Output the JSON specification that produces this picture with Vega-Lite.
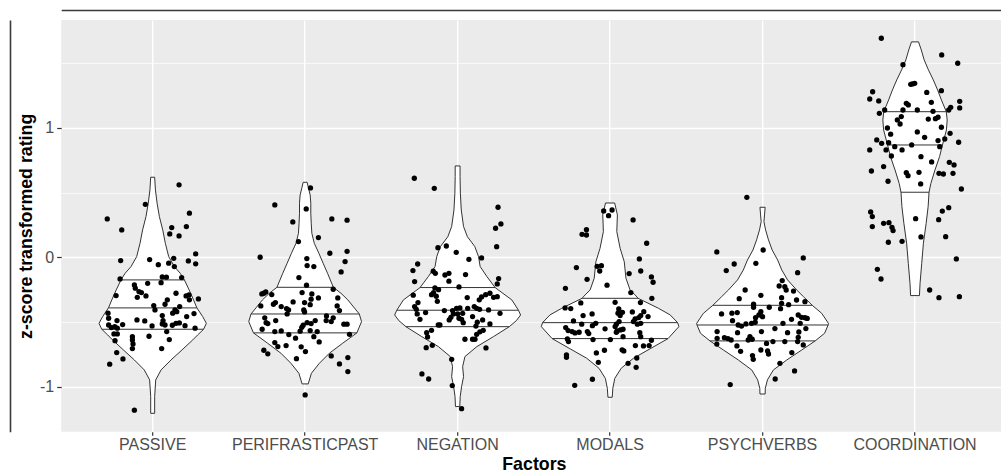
{
"$schema": "https://vega.github.io/schema/vega-lite/v6.json",
"width": 945.3,
"height": 411.7,
"autosize": {"type": "none"},
"padding": {"left": 61.2, "top": 20, "right": -5.5, "bottom": 43.3},
"background": "white",
"config": {"view": {"stroke": null, "fill": "#EBEBEB"}, "font": "Liberation Sans"},
"datasets": {
"vio": [
{"f":"PASSIVE","y":0.618,"o":-0.013},{"f":"PASSIVE","y":0.520,"o":-0.018},{"f":"PASSIVE","y":0.417,"o":-0.029},{"f":"PASSIVE","y":0.314,"o":-0.044},{"f":"PASSIVE","y":0.211,"o":-0.066},{"f":"PASSIVE","y":0.108,"o":-0.083},{"f":"PASSIVE","y":0.005,"o":-0.105},{"f":"PASSIVE","y":-0.072,"o":-0.142},{"f":"PASSIVE","y":-0.124,"o":-0.181},{"f":"PASSIVE","y":-0.175,"o":-0.208},{"f":"PASSIVE","y":-0.252,"o":-0.239},{"f":"PASSIVE","y":-0.329,"o":-0.268},{"f":"PASSIVE","y":-0.391,"o":-0.290},{"f":"PASSIVE","y":-0.458,"o":-0.328},{"f":"PASSIVE","y":-0.510,"o":-0.352},{"f":"PASSIVE","y":-0.556,"o":-0.334},{"f":"PASSIVE","y":-0.600,"o":-0.295},{"f":"PASSIVE","y":-0.638,"o":-0.263},{"f":"PASSIVE","y":-0.716,"o":-0.192},{"f":"PASSIVE","y":-0.793,"o":-0.120},{"f":"PASSIVE","y":-0.870,"o":-0.055},{"f":"PASSIVE","y":-0.947,"o":-0.020},{"f":"PASSIVE","y":-1.076,"o":-0.013},{"f":"PASSIVE","y":-1.205,"o":-0.013},
{"f":"PASSIVE","y":-1.205,"o":0.013},{"f":"PASSIVE","y":-1.076,"o":0.013},{"f":"PASSIVE","y":-0.947,"o":0.020},{"f":"PASSIVE","y":-0.870,"o":0.055},{"f":"PASSIVE","y":-0.793,"o":0.120},{"f":"PASSIVE","y":-0.716,"o":0.192},{"f":"PASSIVE","y":-0.638,"o":0.263},{"f":"PASSIVE","y":-0.600,"o":0.295},{"f":"PASSIVE","y":-0.556,"o":0.334},{"f":"PASSIVE","y":-0.510,"o":0.352},{"f":"PASSIVE","y":-0.458,"o":0.328},{"f":"PASSIVE","y":-0.391,"o":0.290},{"f":"PASSIVE","y":-0.329,"o":0.268},{"f":"PASSIVE","y":-0.252,"o":0.239},{"f":"PASSIVE","y":-0.175,"o":0.208},{"f":"PASSIVE","y":-0.124,"o":0.181},{"f":"PASSIVE","y":-0.072,"o":0.142},{"f":"PASSIVE","y":0.005,"o":0.105},{"f":"PASSIVE","y":0.108,"o":0.083},{"f":"PASSIVE","y":0.211,"o":0.066},{"f":"PASSIVE","y":0.314,"o":0.044},{"f":"PASSIVE","y":0.417,"o":0.029},{"f":"PASSIVE","y":0.520,"o":0.018},{"f":"PASSIVE","y":0.618,"o":0.013},{"f":"PASSIVE","y":0.618,"o":-0.013},
{"f":"PERIFRASTICPAST","y":0.579,"o":-0.013},{"f":"PERIFRASTICPAST","y":0.533,"o":-0.022},{"f":"PERIFRASTICPAST","y":0.481,"o":-0.033},{"f":"PERIFRASTICPAST","y":0.417,"o":-0.037},{"f":"PERIFRASTICPAST","y":0.340,"o":-0.037},{"f":"PERIFRASTICPAST","y":0.263,"o":-0.040},{"f":"PERIFRASTICPAST","y":0.185,"o":-0.044},{"f":"PERIFRASTICPAST","y":0.108,"o":-0.060},{"f":"PERIFRASTICPAST","y":0.031,"o":-0.090},{"f":"PERIFRASTICPAST","y":-0.046,"o":-0.118},{"f":"PERIFRASTICPAST","y":-0.124,"o":-0.147},{"f":"PERIFRASTICPAST","y":-0.232,"o":-0.185},{"f":"PERIFRASTICPAST","y":-0.278,"o":-0.235},{"f":"PERIFRASTICPAST","y":-0.329,"o":-0.280},{"f":"PERIFRASTICPAST","y":-0.438,"o":-0.355},{"f":"PERIFRASTICPAST","y":-0.497,"o":-0.370},{"f":"PERIFRASTICPAST","y":-0.584,"o":-0.339},{"f":"PERIFRASTICPAST","y":-0.664,"o":-0.246},{"f":"PERIFRASTICPAST","y":-0.741,"o":-0.159},{"f":"PERIFRASTICPAST","y":-0.819,"o":-0.093},{"f":"PERIFRASTICPAST","y":-0.896,"o":-0.041},{"f":"PERIFRASTICPAST","y":-0.978,"o":-0.020},
{"f":"PERIFRASTICPAST","y":-0.978,"o":0.020},{"f":"PERIFRASTICPAST","y":-0.896,"o":0.041},{"f":"PERIFRASTICPAST","y":-0.819,"o":0.093},{"f":"PERIFRASTICPAST","y":-0.741,"o":0.159},{"f":"PERIFRASTICPAST","y":-0.664,"o":0.246},{"f":"PERIFRASTICPAST","y":-0.584,"o":0.339},{"f":"PERIFRASTICPAST","y":-0.497,"o":0.370},{"f":"PERIFRASTICPAST","y":-0.438,"o":0.355},{"f":"PERIFRASTICPAST","y":-0.329,"o":0.280},{"f":"PERIFRASTICPAST","y":-0.278,"o":0.235},{"f":"PERIFRASTICPAST","y":-0.232,"o":0.185},{"f":"PERIFRASTICPAST","y":-0.124,"o":0.147},{"f":"PERIFRASTICPAST","y":-0.046,"o":0.118},{"f":"PERIFRASTICPAST","y":0.031,"o":0.090},{"f":"PERIFRASTICPAST","y":0.108,"o":0.060},{"f":"PERIFRASTICPAST","y":0.185,"o":0.044},{"f":"PERIFRASTICPAST","y":0.263,"o":0.040},{"f":"PERIFRASTICPAST","y":0.340,"o":0.037},{"f":"PERIFRASTICPAST","y":0.417,"o":0.037},{"f":"PERIFRASTICPAST","y":0.481,"o":0.033},{"f":"PERIFRASTICPAST","y":0.533,"o":0.022},{"f":"PERIFRASTICPAST","y":0.579,"o":0.013},{"f":"PERIFRASTICPAST","y":0.579,"o":-0.013},
{"f":"NEGATION","y":0.705,"o":-0.016},{"f":"NEGATION","y":0.623,"o":-0.016},{"f":"NEGATION","y":0.494,"o":-0.018},{"f":"NEGATION","y":0.365,"o":-0.024},{"f":"NEGATION","y":0.237,"o":-0.039},{"f":"NEGATION","y":0.159,"o":-0.064},{"f":"NEGATION","y":0.082,"o":-0.113},{"f":"NEGATION","y":0.005,"o":-0.137},{"f":"NEGATION","y":-0.072,"o":-0.148},{"f":"NEGATION","y":-0.149,"o":-0.192},{"f":"NEGATION","y":-0.234,"o":-0.246},{"f":"NEGATION","y":-0.330,"o":-0.356},{"f":"NEGATION","y":-0.409,"o":-0.399},{"f":"NEGATION","y":-0.446,"o":-0.413},{"f":"NEGATION","y":-0.490,"o":-0.385},{"f":"NEGATION","y":-0.536,"o":-0.339},{"f":"NEGATION","y":-0.613,"o":-0.235},{"f":"NEGATION","y":-0.690,"o":-0.126},{"f":"NEGATION","y":-0.767,"o":-0.048},{"f":"NEGATION","y":-0.845,"o":-0.033},{"f":"NEGATION","y":-0.922,"o":-0.039},{"f":"NEGATION","y":-0.999,"o":-0.026},{"f":"NEGATION","y":-1.076,"o":-0.017},{"f":"NEGATION","y":-1.153,"o":-0.014},
{"f":"NEGATION","y":-1.153,"o":0.014},{"f":"NEGATION","y":-1.076,"o":0.017},{"f":"NEGATION","y":-0.999,"o":0.026},{"f":"NEGATION","y":-0.922,"o":0.039},{"f":"NEGATION","y":-0.845,"o":0.033},{"f":"NEGATION","y":-0.767,"o":0.048},{"f":"NEGATION","y":-0.690,"o":0.126},{"f":"NEGATION","y":-0.613,"o":0.235},{"f":"NEGATION","y":-0.536,"o":0.339},{"f":"NEGATION","y":-0.490,"o":0.385},{"f":"NEGATION","y":-0.446,"o":0.413},{"f":"NEGATION","y":-0.409,"o":0.399},{"f":"NEGATION","y":-0.330,"o":0.356},{"f":"NEGATION","y":-0.234,"o":0.246},{"f":"NEGATION","y":-0.149,"o":0.192},{"f":"NEGATION","y":-0.072,"o":0.148},{"f":"NEGATION","y":0.005,"o":0.137},{"f":"NEGATION","y":0.082,"o":0.113},{"f":"NEGATION","y":0.159,"o":0.064},{"f":"NEGATION","y":0.237,"o":0.039},{"f":"NEGATION","y":0.365,"o":0.024},{"f":"NEGATION","y":0.494,"o":0.018},{"f":"NEGATION","y":0.623,"o":0.016},{"f":"NEGATION","y":0.705,"o":0.016},{"f":"NEGATION","y":0.705,"o":-0.016},
{"f":"MODALS","y":0.419,"o":-0.030},{"f":"MODALS","y":0.327,"o":-0.048},{"f":"MODALS","y":0.198,"o":-0.044},{"f":"MODALS","y":0.069,"o":-0.066},{"f":"MODALS","y":-0.034,"o":-0.093},{"f":"MODALS","y":-0.162,"o":-0.104},{"f":"MODALS","y":-0.252,"o":-0.131},{"f":"MODALS","y":-0.291,"o":-0.164},{"f":"MODALS","y":-0.317,"o":-0.184},{"f":"MODALS","y":-0.394,"o":-0.317},{"f":"MODALS","y":-0.445,"o":-0.394},{"f":"MODALS","y":-0.505,"o":-0.443},{"f":"MODALS","y":-0.536,"o":-0.451},{"f":"MODALS","y":-0.628,"o":-0.380},{"f":"MODALS","y":-0.703,"o":-0.268},{"f":"MODALS","y":-0.780,"o":-0.153},{"f":"MODALS","y":-0.857,"o":-0.073},{"f":"MODALS","y":-0.935,"o":-0.031},{"f":"MODALS","y":-1.012,"o":-0.018},{"f":"MODALS","y":-1.081,"o":-0.014},
{"f":"MODALS","y":-1.081,"o":0.014},{"f":"MODALS","y":-1.012,"o":0.018},{"f":"MODALS","y":-0.935,"o":0.031},{"f":"MODALS","y":-0.857,"o":0.073},{"f":"MODALS","y":-0.780,"o":0.153},{"f":"MODALS","y":-0.703,"o":0.268},{"f":"MODALS","y":-0.628,"o":0.380},{"f":"MODALS","y":-0.536,"o":0.451},{"f":"MODALS","y":-0.505,"o":0.443},{"f":"MODALS","y":-0.445,"o":0.394},{"f":"MODALS","y":-0.394,"o":0.317},{"f":"MODALS","y":-0.317,"o":0.184},{"f":"MODALS","y":-0.291,"o":0.164},{"f":"MODALS","y":-0.252,"o":0.131},{"f":"MODALS","y":-0.162,"o":0.104},{"f":"MODALS","y":-0.034,"o":0.093},{"f":"MODALS","y":0.069,"o":0.066},{"f":"MODALS","y":0.198,"o":0.044},{"f":"MODALS","y":0.327,"o":0.048},{"f":"MODALS","y":0.419,"o":0.030},{"f":"MODALS","y":0.419,"o":-0.030},
{"f":"PSYCHVERBS","y":0.386,"o":-0.017},{"f":"PSYCHVERBS","y":0.327,"o":-0.013},{"f":"PSYCHVERBS","y":0.275,"o":-0.009},{"f":"PSYCHVERBS","y":0.211,"o":-0.020},{"f":"PSYCHVERBS","y":0.134,"o":-0.039},{"f":"PSYCHVERBS","y":0.056,"o":-0.063},{"f":"PSYCHVERBS","y":-0.021,"o":-0.099},{"f":"PSYCHVERBS","y":-0.098,"o":-0.126},{"f":"PSYCHVERBS","y":-0.175,"o":-0.164},{"f":"PSYCHVERBS","y":-0.253,"o":-0.224},{"f":"PSYCHVERBS","y":-0.304,"o":-0.268},{"f":"PSYCHVERBS","y":-0.371,"o":-0.326},{"f":"PSYCHVERBS","y":-0.433,"o":-0.388},{"f":"PSYCHVERBS","y":-0.510,"o":-0.432},{"f":"PSYCHVERBS","y":-0.523,"o":-0.430},{"f":"PSYCHVERBS","y":-0.587,"o":-0.407},{"f":"PSYCHVERBS","y":-0.646,"o":-0.345},{"f":"PSYCHVERBS","y":-0.716,"o":-0.257},{"f":"PSYCHVERBS","y":-0.793,"o":-0.159},{"f":"PSYCHVERBS","y":-0.870,"o":-0.071},{"f":"PSYCHVERBS","y":-0.947,"o":-0.032},{"f":"PSYCHVERBS","y":-1.012,"o":-0.018},{"f":"PSYCHVERBS","y":-1.056,"o":-0.017},
{"f":"PSYCHVERBS","y":-1.056,"o":0.017},{"f":"PSYCHVERBS","y":-1.012,"o":0.018},{"f":"PSYCHVERBS","y":-0.947,"o":0.032},{"f":"PSYCHVERBS","y":-0.870,"o":0.071},{"f":"PSYCHVERBS","y":-0.793,"o":0.159},{"f":"PSYCHVERBS","y":-0.716,"o":0.257},{"f":"PSYCHVERBS","y":-0.646,"o":0.345},{"f":"PSYCHVERBS","y":-0.587,"o":0.407},{"f":"PSYCHVERBS","y":-0.523,"o":0.430},{"f":"PSYCHVERBS","y":-0.510,"o":0.432},{"f":"PSYCHVERBS","y":-0.433,"o":0.388},{"f":"PSYCHVERBS","y":-0.371,"o":0.326},{"f":"PSYCHVERBS","y":-0.304,"o":0.268},{"f":"PSYCHVERBS","y":-0.253,"o":0.224},{"f":"PSYCHVERBS","y":-0.175,"o":0.164},{"f":"PSYCHVERBS","y":-0.098,"o":0.126},{"f":"PSYCHVERBS","y":-0.021,"o":0.099},{"f":"PSYCHVERBS","y":0.056,"o":0.063},{"f":"PSYCHVERBS","y":0.134,"o":0.039},{"f":"PSYCHVERBS","y":0.211,"o":0.020},{"f":"PSYCHVERBS","y":0.275,"o":0.009},{"f":"PSYCHVERBS","y":0.327,"o":0.013},{"f":"PSYCHVERBS","y":0.386,"o":0.017},{"f":"PSYCHVERBS","y":0.386,"o":-0.017},
{"f":"COORDINATION","y":1.663,"o":-0.023},{"f":"COORDINATION","y":1.601,"o":-0.041},{"f":"COORDINATION","y":1.524,"o":-0.060},{"f":"COORDINATION","y":1.447,"o":-0.088},{"f":"COORDINATION","y":1.369,"o":-0.120},{"f":"COORDINATION","y":1.292,"o":-0.148},{"f":"COORDINATION","y":1.215,"o":-0.173},{"f":"COORDINATION","y":1.124,"o":-0.205},{"f":"COORDINATION","y":1.060,"o":-0.211},{"f":"COORDINATION","y":0.983,"o":-0.206},{"f":"COORDINATION","y":0.867,"o":-0.180},{"f":"COORDINATION","y":0.777,"o":-0.161},{"f":"COORDINATION","y":0.674,"o":-0.131},{"f":"COORDINATION","y":0.571,"o":-0.104},{"f":"COORDINATION","y":0.502,"o":-0.092},{"f":"COORDINATION","y":0.391,"o":-0.086},{"f":"COORDINATION","y":0.262,"o":-0.073},{"f":"COORDINATION","y":0.108,"o":-0.055},{"f":"COORDINATION","y":-0.047,"o":-0.044},{"f":"COORDINATION","y":-0.201,"o":-0.033},{"f":"COORDINATION","y":-0.296,"o":-0.029},
{"f":"COORDINATION","y":-0.296,"o":0.029},{"f":"COORDINATION","y":-0.201,"o":0.033},{"f":"COORDINATION","y":-0.047,"o":0.044},{"f":"COORDINATION","y":0.108,"o":0.055},{"f":"COORDINATION","y":0.262,"o":0.073},{"f":"COORDINATION","y":0.391,"o":0.086},{"f":"COORDINATION","y":0.502,"o":0.092},{"f":"COORDINATION","y":0.571,"o":0.104},{"f":"COORDINATION","y":0.674,"o":0.131},{"f":"COORDINATION","y":0.777,"o":0.161},{"f":"COORDINATION","y":0.867,"o":0.180},{"f":"COORDINATION","y":0.983,"o":0.206},{"f":"COORDINATION","y":1.060,"o":0.211},{"f":"COORDINATION","y":1.124,"o":0.205},{"f":"COORDINATION","y":1.215,"o":0.173},{"f":"COORDINATION","y":1.292,"o":0.148},{"f":"COORDINATION","y":1.369,"o":0.120},{"f":"COORDINATION","y":1.447,"o":0.088},{"f":"COORDINATION","y":1.524,"o":0.060},{"f":"COORDINATION","y":1.601,"o":0.041},{"f":"COORDINATION","y":1.663,"o":0.023},{"f":"COORDINATION","y":1.663,"o":-0.023}
],
"qt": [
{"f":"PASSIVE","g":"P1","y":-0.175,"o":-0.208},{"f":"PASSIVE","g":"P1","y":-0.175,"o":0.208},
{"f":"PASSIVE","g":"P2","y":-0.391,"o":-0.290},{"f":"PASSIVE","g":"P2","y":-0.391,"o":0.290},
{"f":"PASSIVE","g":"P3","y":-0.556,"o":-0.334},{"f":"PASSIVE","g":"P3","y":-0.556,"o":0.334},
{"f":"PERIFRASTICPAST","g":"R1","y":-0.232,"o":-0.185},{"f":"PERIFRASTICPAST","g":"R1","y":-0.232,"o":0.185},
{"f":"PERIFRASTICPAST","g":"R2","y":-0.438,"o":-0.355},{"f":"PERIFRASTICPAST","g":"R2","y":-0.438,"o":0.355},
{"f":"PERIFRASTICPAST","g":"R3","y":-0.584,"o":-0.339},{"f":"PERIFRASTICPAST","g":"R3","y":-0.584,"o":0.339},
{"f":"NEGATION","g":"N1","y":-0.234,"o":-0.246},{"f":"NEGATION","g":"N1","y":-0.234,"o":0.246},
{"f":"NEGATION","g":"N2","y":-0.409,"o":-0.399},{"f":"NEGATION","g":"N2","y":-0.409,"o":0.399},
{"f":"NEGATION","g":"N3","y":-0.536,"o":-0.339},{"f":"NEGATION","g":"N3","y":-0.536,"o":0.339},
{"f":"MODALS","g":"M1","y":-0.317,"o":-0.184},{"f":"MODALS","g":"M1","y":-0.317,"o":0.184},
{"f":"MODALS","g":"M2","y":-0.505,"o":-0.443},{"f":"MODALS","g":"M2","y":-0.505,"o":0.443},
{"f":"MODALS","g":"M3","y":-0.628,"o":-0.380},{"f":"MODALS","g":"M3","y":-0.628,"o":0.380},
{"f":"PSYCHVERBS","g":"S1","y":-0.371,"o":-0.326},{"f":"PSYCHVERBS","g":"S1","y":-0.371,"o":0.326},
{"f":"PSYCHVERBS","g":"S2","y":-0.523,"o":-0.430},{"f":"PSYCHVERBS","g":"S2","y":-0.523,"o":0.430},
{"f":"PSYCHVERBS","g":"S3","y":-0.646,"o":-0.345},{"f":"PSYCHVERBS","g":"S3","y":-0.646,"o":0.345},
{"f":"COORDINATION","g":"C1","y":1.124,"o":-0.205},{"f":"COORDINATION","g":"C1","y":1.124,"o":0.205},
{"f":"COORDINATION","g":"C2","y":0.867,"o":-0.180},{"f":"COORDINATION","g":"C2","y":0.867,"o":0.180},
{"f":"COORDINATION","g":"C3","y":0.502,"o":-0.092},{"f":"COORDINATION","g":"C3","y":0.502,"o":0.092}
],
"pts": [
{"f":"PASSIVE","y":0.559,"o":0.173},{"f":"PASSIVE","y":0.409,"o":-0.048},{"f":"PASSIVE","y":0.340,"o":0.241},{"f":"PASSIVE","y":0.296,"o":-0.298},{"f":"PASSIVE","y":0.211,"o":-0.203},{"f":"PASSIVE","y":0.229,"o":0.125},{"f":"PASSIVE","y":0.237,"o":0.221},{"f":"PASSIVE","y":0.180,"o":0.112},{"f":"PASSIVE","y":0.165,"o":0.173},{"f":"PASSIVE","y":0.026,"o":0.282},{"f":"PASSIVE","y":-0.026,"o":-0.210},{"f":"PASSIVE","y":-0.018,"o":-0.020},{"f":"PASSIVE","y":-0.057,"o":0.037},{"f":"PASSIVE","y":-0.046,"o":0.105},{"f":"PASSIVE","y":-0.008,"o":0.138},{"f":"PASSIVE","y":-0.072,"o":0.142},{"f":"PASSIVE","y":-0.028,"o":0.234},{"f":"PASSIVE","y":-0.051,"o":0.282},{"f":"PASSIVE","y":-0.167,"o":-0.214},{"f":"PASSIVE","y":-0.152,"o":0.063},{"f":"PASSIVE","y":-0.154,"o":0.090},{"f":"PASSIVE","y":-0.196,"o":0.055},{"f":"PASSIVE","y":-0.157,"o":0.190},{"f":"PASSIVE","y":-0.214,"o":-0.120},{"f":"PASSIVE","y":-0.201,"o":-0.033},{"f":"PASSIVE","y":-0.239,"o":-0.114},{"f":"PASSIVE","y":-0.265,"o":-0.090},{"f":"PASSIVE","y":-0.273,"o":-0.074},{"f":"PASSIVE","y":-0.299,"o":-0.044},{"f":"PASSIVE","y":-0.309,"o":-0.101},{"f":"PASSIVE","y":-0.296,"o":-0.240},{"f":"PASSIVE","y":-0.278,"o":0.153},{"f":"PASSIVE","y":-0.299,"o":0.219},{"f":"PASSIVE","y":-0.291,"o":0.238},{"f":"PASSIVE","y":-0.329,"o":0.241},{"f":"PASSIVE","y":-0.322,"o":0.300},{"f":"PASSIVE","y":-0.329,"o":0.096},{"f":"PASSIVE","y":-0.363,"o":0.081},{"f":"PASSIVE","y":-0.373,"o":0.007},{"f":"PASSIVE","y":-0.407,"o":0.015},{"f":"PASSIVE","y":-0.381,"o":0.177},{"f":"PASSIVE","y":-0.407,"o":0.146},{"f":"PASSIVE","y":-0.432,"o":0.131},{"f":"PASSIVE","y":-0.420,"o":0.158},{"f":"PASSIVE","y":-0.450,"o":0.063},{"f":"PASSIVE","y":-0.435,"o":0.271},{"f":"PASSIVE","y":-0.458,"o":0.223},{"f":"PASSIVE","y":-0.432,"o":-0.293},{"f":"PASSIVE","y":-0.471,"o":-0.289},{"f":"PASSIVE","y":-0.484,"o":-0.103},{"f":"PASSIVE","y":-0.492,"o":-0.052},{"f":"PASSIVE","y":-0.489,"o":0.068},{"f":"PASSIVE","y":-0.515,"o":0.063},{"f":"PASSIVE","y":-0.523,"o":0.081},{"f":"PASSIVE","y":-0.525,"o":0.129},{"f":"PASSIVE","y":-0.510,"o":0.153},{"f":"PASSIVE","y":-0.507,"o":0.175},{"f":"PASSIVE","y":-0.528,"o":0.212},{"f":"PASSIVE","y":-0.548,"o":0.278},{"f":"PASSIVE","y":-0.523,"o":-0.289},{"f":"PASSIVE","y":-0.489,"o":-0.234},{"f":"PASSIVE","y":-0.520,"o":-0.197},{"f":"PASSIVE","y":-0.543,"o":-0.271},{"f":"PASSIVE","y":-0.535,"o":-0.249},{"f":"PASSIVE","y":-0.548,"o":-0.232},{"f":"PASSIVE","y":-0.530,"o":-0.004},{"f":"PASSIVE","y":-0.574,"o":0.092},{"f":"PASSIVE","y":-0.592,"o":-0.254},{"f":"PASSIVE","y":-0.592,"o":-0.232},{"f":"PASSIVE","y":-0.610,"o":-0.024},{"f":"PASSIVE","y":-0.613,"o":-0.133},{"f":"PASSIVE","y":-0.644,"o":-0.247},{"f":"PASSIVE","y":-0.638,"o":-0.133},{"f":"PASSIVE","y":-0.636,"o":0.109},{"f":"PASSIVE","y":-0.669,"o":-0.129},{"f":"PASSIVE","y":-0.705,"o":-0.133},{"f":"PASSIVE","y":-0.705,"o":0.059},{"f":"PASSIVE","y":-0.736,"o":-0.236},{"f":"PASSIVE","y":-0.785,"o":-0.195},{"f":"PASSIVE","y":-0.826,"o":-0.282},{"f":"PASSIVE","y":-1.181,"o":-0.120},
{"f":"PERIFRASTICPAST","y":0.535,"o":0.035},{"f":"PERIFRASTICPAST","y":0.404,"o":-0.199},{"f":"PERIFRASTICPAST","y":0.373,"o":0.007},{"f":"PERIFRASTICPAST","y":0.273,"o":-0.081},{"f":"PERIFRASTICPAST","y":0.296,"o":0.175},{"f":"PERIFRASTICPAST","y":0.286,"o":0.275},{"f":"PERIFRASTICPAST","y":0.121,"o":-0.044},{"f":"PERIFRASTICPAST","y":0.152,"o":0.087},{"f":"PERIFRASTICPAST","y":0.000,"o":-0.295},{"f":"PERIFRASTICPAST","y":0.031,"o":0.162},{"f":"PERIFRASTICPAST","y":0.046,"o":0.275},{"f":"PERIFRASTICPAST","y":-0.010,"o":0.011},{"f":"PERIFRASTICPAST","y":-0.033,"o":0.262},{"f":"PERIFRASTICPAST","y":-0.064,"o":0.013},{"f":"PERIFRASTICPAST","y":-0.072,"o":0.057},{"f":"PERIFRASTICPAST","y":-0.113,"o":0.236},{"f":"PERIFRASTICPAST","y":-0.157,"o":-0.041},{"f":"PERIFRASTICPAST","y":-0.216,"o":0.009},{"f":"PERIFRASTICPAST","y":-0.247,"o":0.184},{"f":"PERIFRASTICPAST","y":-0.278,"o":-0.271},{"f":"PERIFRASTICPAST","y":-0.268,"o":-0.258},{"f":"PERIFRASTICPAST","y":-0.283,"o":-0.284},{"f":"PERIFRASTICPAST","y":-0.288,"o":-0.219},{"f":"PERIFRASTICPAST","y":-0.273,"o":-0.020},{"f":"PERIFRASTICPAST","y":-0.283,"o":0.044},{"f":"PERIFRASTICPAST","y":-0.314,"o":0.214},{"f":"PERIFRASTICPAST","y":-0.314,"o":0.087},{"f":"PERIFRASTICPAST","y":-0.324,"o":0.039},{"f":"PERIFRASTICPAST","y":-0.345,"o":-0.079},{"f":"PERIFRASTICPAST","y":-0.350,"o":-0.195},{"f":"PERIFRASTICPAST","y":-0.363,"o":-0.208},{"f":"PERIFRASTICPAST","y":-0.350,"o":-0.004},{"f":"PERIFRASTICPAST","y":-0.366,"o":0.033},{"f":"PERIFRASTICPAST","y":-0.376,"o":-0.291},{"f":"PERIFRASTICPAST","y":-0.381,"o":-0.157},{"f":"PERIFRASTICPAST","y":-0.396,"o":-0.122},{"f":"PERIFRASTICPAST","y":-0.407,"o":-0.109},{"f":"PERIFRASTICPAST","y":-0.376,"o":0.210},{"f":"PERIFRASTICPAST","y":-0.412,"o":0.225},{"f":"PERIFRASTICPAST","y":-0.407,"o":-0.009},{"f":"PERIFRASTICPAST","y":-0.422,"o":-0.004},{"f":"PERIFRASTICPAST","y":-0.438,"o":-0.118},{"f":"PERIFRASTICPAST","y":-0.453,"o":0.140},{"f":"PERIFRASTICPAST","y":-0.468,"o":0.184},{"f":"PERIFRASTICPAST","y":-0.468,"o":-0.265},{"f":"PERIFRASTICPAST","y":-0.489,"o":0.138},{"f":"PERIFRASTICPAST","y":-0.497,"o":0.171},{"f":"PERIFRASTICPAST","y":-0.489,"o":-0.193},{"f":"PERIFRASTICPAST","y":-0.505,"o":-0.256},{"f":"PERIFRASTICPAST","y":-0.512,"o":-0.245},{"f":"PERIFRASTICPAST","y":-0.489,"o":0.066},{"f":"PERIFRASTICPAST","y":-0.505,"o":0.013},{"f":"PERIFRASTICPAST","y":-0.512,"o":0.039},{"f":"PERIFRASTICPAST","y":-0.525,"o":-0.013},{"f":"PERIFRASTICPAST","y":-0.541,"o":-0.022},{"f":"PERIFRASTICPAST","y":-0.517,"o":0.254},{"f":"PERIFRASTICPAST","y":-0.517,"o":0.275},{"f":"PERIFRASTICPAST","y":-0.556,"o":-0.282},{"f":"PERIFRASTICPAST","y":-0.574,"o":-0.199},{"f":"PERIFRASTICPAST","y":-0.569,"o":-0.157},{"f":"PERIFRASTICPAST","y":-0.571,"o":-0.033},{"f":"PERIFRASTICPAST","y":-0.566,"o":0.033},{"f":"PERIFRASTICPAST","y":-0.574,"o":0.079},{"f":"PERIFRASTICPAST","y":-0.595,"o":0.291},{"f":"PERIFRASTICPAST","y":-0.597,"o":-0.107},{"f":"PERIFRASTICPAST","y":-0.625,"o":-0.063},{"f":"PERIFRASTICPAST","y":-0.613,"o":0.057},{"f":"PERIFRASTICPAST","y":-0.654,"o":0.092},{"f":"PERIFRASTICPAST","y":-0.659,"o":-0.199},{"f":"PERIFRASTICPAST","y":-0.690,"o":-0.179},{"f":"PERIFRASTICPAST","y":-0.682,"o":-0.125},{"f":"PERIFRASTICPAST","y":-0.692,"o":-0.026},{"f":"PERIFRASTICPAST","y":-0.728,"o":0.002},{"f":"PERIFRASTICPAST","y":-0.718,"o":-0.271},{"f":"PERIFRASTICPAST","y":-0.746,"o":-0.245},{"f":"PERIFRASTICPAST","y":-0.783,"o":-0.057},{"f":"PERIFRASTICPAST","y":-0.762,"o":0.171},{"f":"PERIFRASTICPAST","y":-0.775,"o":0.280},{"f":"PERIFRASTICPAST","y":-0.824,"o":0.225},{"f":"PERIFRASTICPAST","y":-0.883,"o":0.280},{"f":"PERIFRASTICPAST","y":-1.063,"o":0.000},
{"f":"NEGATION","y":0.610,"o":-0.284},{"f":"NEGATION","y":0.532,"o":-0.153},{"f":"NEGATION","y":0.386,"o":0.265},{"f":"NEGATION","y":0.257,"o":0.284},{"f":"NEGATION","y":0.224,"o":0.249},{"f":"NEGATION","y":0.082,"o":0.256},{"f":"NEGATION","y":0.074,"o":-0.129},{"f":"NEGATION","y":0.087,"o":-0.074},{"f":"NEGATION","y":0.038,"o":-0.009},{"f":"NEGATION","y":-0.016,"o":0.074},{"f":"NEGATION","y":-0.005,"o":0.157},{"f":"NEGATION","y":-0.052,"o":-0.262},{"f":"NEGATION","y":-0.103,"o":-0.293},{"f":"NEGATION","y":-0.108,"o":-0.160},{"f":"NEGATION","y":-0.124,"o":-0.146},{"f":"NEGATION","y":-0.137,"o":-0.083},{"f":"NEGATION","y":-0.124,"o":-0.057},{"f":"NEGATION","y":-0.134,"o":0.052},{"f":"NEGATION","y":-0.188,"o":-0.282},{"f":"NEGATION","y":-0.185,"o":-0.057},{"f":"NEGATION","y":-0.165,"o":0.269},{"f":"NEGATION","y":-0.206,"o":0.260},{"f":"NEGATION","y":-0.229,"o":0.009},{"f":"NEGATION","y":-0.237,"o":-0.149},{"f":"NEGATION","y":-0.250,"o":-0.125},{"f":"NEGATION","y":-0.293,"o":-0.291},{"f":"NEGATION","y":-0.289,"o":-0.171},{"f":"NEGATION","y":-0.273,"o":-0.158},{"f":"NEGATION","y":-0.301,"o":-0.140},{"f":"NEGATION","y":-0.311,"o":0.063},{"f":"NEGATION","y":-0.306,"o":0.157},{"f":"NEGATION","y":-0.289,"o":0.184},{"f":"NEGATION","y":-0.278,"o":0.212},{"f":"NEGATION","y":-0.309,"o":0.236},{"f":"NEGATION","y":-0.304,"o":0.260},{"f":"NEGATION","y":-0.329,"o":0.142},{"f":"NEGATION","y":-0.350,"o":-0.260},{"f":"NEGATION","y":-0.340,"o":-0.133},{"f":"NEGATION","y":-0.381,"o":-0.282},{"f":"NEGATION","y":-0.402,"o":-0.271},{"f":"NEGATION","y":-0.427,"o":-0.210},{"f":"NEGATION","y":-0.438,"o":-0.265},{"f":"NEGATION","y":-0.479,"o":-0.247},{"f":"NEGATION","y":-0.412,"o":-0.087},{"f":"NEGATION","y":-0.412,"o":-0.033},{"f":"NEGATION","y":-0.394,"o":-0.007},{"f":"NEGATION","y":-0.391,"o":0.015},{"f":"NEGATION","y":-0.394,"o":0.066},{"f":"NEGATION","y":-0.381,"o":0.109},{"f":"NEGATION","y":-0.394,"o":0.125},{"f":"NEGATION","y":-0.402,"o":0.144},{"f":"NEGATION","y":-0.407,"o":0.203},{"f":"NEGATION","y":-0.433,"o":0.278},{"f":"NEGATION","y":-0.438,"o":-0.028},{"f":"NEGATION","y":-0.438,"o":0.000},{"f":"NEGATION","y":-0.433,"o":0.033},{"f":"NEGATION","y":-0.464,"o":-0.044},{"f":"NEGATION","y":-0.484,"o":-0.055},{"f":"NEGATION","y":-0.471,"o":0.009},{"f":"NEGATION","y":-0.505,"o":0.037},{"f":"NEGATION","y":-0.479,"o":0.026},{"f":"NEGATION","y":-0.458,"o":0.098},{"f":"NEGATION","y":-0.484,"o":0.164},{"f":"NEGATION","y":-0.502,"o":0.129},{"f":"NEGATION","y":-0.515,"o":0.212},{"f":"NEGATION","y":-0.523,"o":-0.127},{"f":"NEGATION","y":-0.523,"o":-0.116},{"f":"NEGATION","y":-0.531,"o":0.120},{"f":"NEGATION","y":-0.564,"o":-0.171},{"f":"NEGATION","y":-0.582,"o":-0.203},{"f":"NEGATION","y":-0.615,"o":-0.197},{"f":"NEGATION","y":-0.564,"o":0.168},{"f":"NEGATION","y":-0.576,"o":0.146},{"f":"NEGATION","y":-0.595,"o":0.125},{"f":"NEGATION","y":-0.633,"o":0.098},{"f":"NEGATION","y":-0.633,"o":0.114},{"f":"NEGATION","y":-0.633,"o":0.048},{"f":"NEGATION","y":-0.680,"o":-0.166},{"f":"NEGATION","y":-0.698,"o":-0.206},{"f":"NEGATION","y":-0.700,"o":0.186},{"f":"NEGATION","y":-0.788,"o":-0.039},{"f":"NEGATION","y":-0.901,"o":-0.234},{"f":"NEGATION","y":-0.940,"o":-0.190},{"f":"NEGATION","y":-0.991,"o":-0.035},{"f":"NEGATION","y":-1.169,"o":0.026},
{"f":"MODALS","y":0.358,"o":-0.042},{"f":"MODALS","y":0.365,"o":0.013},{"f":"MODALS","y":0.321,"o":-0.010},{"f":"MODALS","y":0.288,"o":0.151},{"f":"MODALS","y":0.213,"o":-0.155},{"f":"MODALS","y":0.177,"o":-0.184},{"f":"MODALS","y":0.172,"o":-0.155},{"f":"MODALS","y":0.108,"o":0.240},{"f":"MODALS","y":-0.013,"o":0.192},{"f":"MODALS","y":-0.080,"o":-0.221},{"f":"MODALS","y":-0.070,"o":-0.085},{"f":"MODALS","y":-0.065,"o":-0.057},{"f":"MODALS","y":-0.106,"o":-0.068},{"f":"MODALS","y":-0.106,"o":0.201},{"f":"MODALS","y":-0.126,"o":0.125},{"f":"MODALS","y":-0.152,"o":0.271},{"f":"MODALS","y":-0.170,"o":-0.151},{"f":"MODALS","y":-0.193,"o":0.282},{"f":"MODALS","y":-0.216,"o":-0.020},{"f":"MODALS","y":-0.240,"o":-0.293},{"f":"MODALS","y":-0.273,"o":0.136},{"f":"MODALS","y":-0.317,"o":0.274},{"f":"MODALS","y":-0.353,"o":-0.192},{"f":"MODALS","y":-0.348,"o":0.033},{"f":"MODALS","y":-0.350,"o":0.199},{"f":"MODALS","y":-0.391,"o":-0.295},{"f":"MODALS","y":-0.396,"o":-0.258},{"f":"MODALS","y":-0.399,"o":0.057},{"f":"MODALS","y":-0.425,"o":0.081},{"f":"MODALS","y":-0.422,"o":0.146},{"f":"MODALS","y":-0.432,"o":0.052},{"f":"MODALS","y":-0.438,"o":-0.118},{"f":"MODALS","y":-0.450,"o":-0.177},{"f":"MODALS","y":-0.450,"o":0.066},{"f":"MODALS","y":-0.450,"o":0.201},{"f":"MODALS","y":-0.420,"o":0.221},{"f":"MODALS","y":-0.458,"o":0.249},{"f":"MODALS","y":-0.466,"o":0.188},{"f":"MODALS","y":-0.476,"o":0.164},{"f":"MODALS","y":-0.497,"o":0.153},{"f":"MODALS","y":-0.492,"o":-0.240},{"f":"MODALS","y":-0.517,"o":-0.186},{"f":"MODALS","y":-0.510,"o":-0.094},{"f":"MODALS","y":-0.528,"o":-0.116},{"f":"MODALS","y":-0.497,"o":0.059},{"f":"MODALS","y":-0.517,"o":0.041},{"f":"MODALS","y":-0.535,"o":0.033},{"f":"MODALS","y":-0.517,"o":0.179},{"f":"MODALS","y":-0.510,"o":0.201},{"f":"MODALS","y":-0.543,"o":-0.291},{"f":"MODALS","y":-0.566,"o":-0.275},{"f":"MODALS","y":-0.574,"o":-0.249},{"f":"MODALS","y":-0.584,"o":-0.230},{"f":"MODALS","y":-0.579,"o":-0.203},{"f":"MODALS","y":-0.574,"o":-0.149},{"f":"MODALS","y":-0.589,"o":-0.140},{"f":"MODALS","y":-0.553,"o":-0.033},{"f":"MODALS","y":-0.569,"o":0.046},{"f":"MODALS","y":-0.561,"o":0.068},{"f":"MODALS","y":-0.556,"o":0.085},{"f":"MODALS","y":-0.579,"o":0.041},{"f":"MODALS","y":-0.582,"o":0.195},{"f":"MODALS","y":-0.613,"o":0.201},{"f":"MODALS","y":-0.613,"o":0.085},{"f":"MODALS","y":-0.631,"o":-0.280},{"f":"MODALS","y":-0.651,"o":-0.273},{"f":"MODALS","y":-0.636,"o":-0.112},{"f":"MODALS","y":-0.636,"o":0.002},{"f":"MODALS","y":-0.641,"o":0.271},{"f":"MODALS","y":-0.682,"o":0.166},{"f":"MODALS","y":-0.685,"o":0.219},{"f":"MODALS","y":-0.682,"o":0.256},{"f":"MODALS","y":-0.718,"o":-0.037},{"f":"MODALS","y":-0.739,"o":-0.090},{"f":"MODALS","y":-0.715,"o":0.079},{"f":"MODALS","y":-0.723,"o":0.090},{"f":"MODALS","y":-0.754,"o":-0.286},{"f":"MODALS","y":-0.772,"o":-0.286},{"f":"MODALS","y":-0.778,"o":0.175},{"f":"MODALS","y":-0.811,"o":-0.077},{"f":"MODALS","y":-0.819,"o":0.118},{"f":"MODALS","y":-0.850,"o":0.171},{"f":"MODALS","y":-0.942,"o":-0.116},{"f":"MODALS","y":-0.989,"o":-0.232},
{"f":"PSYCHVERBS","y":0.463,"o":-0.103},{"f":"PSYCHVERBS","y":0.041,"o":-0.300},{"f":"PSYCHVERBS","y":0.056,"o":0.004},{"f":"PSYCHVERBS","y":-0.005,"o":0.267},{"f":"PSYCHVERBS","y":-0.052,"o":-0.186},{"f":"PSYCHVERBS","y":-0.047,"o":-0.044},{"f":"PSYCHVERBS","y":-0.103,"o":-0.238},{"f":"PSYCHVERBS","y":-0.119,"o":0.230},{"f":"PSYCHVERBS","y":-0.180,"o":0.129},{"f":"PSYCHVERBS","y":-0.222,"o":0.109},{"f":"PSYCHVERBS","y":-0.227,"o":0.146},{"f":"PSYCHVERBS","y":-0.253,"o":0.155},{"f":"PSYCHVERBS","y":-0.253,"o":-0.114},{"f":"PSYCHVERBS","y":-0.261,"o":0.203},{"f":"PSYCHVERBS","y":-0.294,"o":-0.011},{"f":"PSYCHVERBS","y":-0.320,"o":-0.153},{"f":"PSYCHVERBS","y":-0.312,"o":0.125},{"f":"PSYCHVERBS","y":-0.330,"o":0.223},{"f":"PSYCHVERBS","y":-0.343,"o":0.278},{"f":"PSYCHVERBS","y":-0.363,"o":-0.059},{"f":"PSYCHVERBS","y":-0.386,"o":-0.059},{"f":"PSYCHVERBS","y":-0.386,"o":0.044},{"f":"PSYCHVERBS","y":-0.356,"o":0.125},{"f":"PSYCHVERBS","y":-0.366,"o":0.171},{"f":"PSYCHVERBS","y":-0.397,"o":0.118},{"f":"PSYCHVERBS","y":-0.438,"o":-0.269},{"f":"PSYCHVERBS","y":-0.432,"o":-0.201},{"f":"PSYCHVERBS","y":-0.427,"o":-0.166},{"f":"PSYCHVERBS","y":-0.420,"o":-0.011},{"f":"PSYCHVERBS","y":-0.446,"o":-0.024},{"f":"PSYCHVERBS","y":-0.459,"o":0.000},{"f":"PSYCHVERBS","y":-0.467,"o":-0.046},{"f":"PSYCHVERBS","y":-0.446,"o":0.234},{"f":"PSYCHVERBS","y":-0.464,"o":0.256},{"f":"PSYCHVERBS","y":-0.467,"o":0.278},{"f":"PSYCHVERBS","y":-0.472,"o":0.293},{"f":"PSYCHVERBS","y":-0.479,"o":0.190},{"f":"PSYCHVERBS","y":-0.490,"o":-0.197},{"f":"PSYCHVERBS","y":-0.523,"o":-0.160},{"f":"PSYCHVERBS","y":-0.531,"o":-0.138},{"f":"PSYCHVERBS","y":-0.515,"o":-0.109},{"f":"PSYCHVERBS","y":-0.510,"o":-0.072},{"f":"PSYCHVERBS","y":-0.502,"o":-0.048},{"f":"PSYCHVERBS","y":-0.510,"o":0.134},{"f":"PSYCHVERBS","y":-0.510,"o":0.247},{"f":"PSYCHVERBS","y":-0.582,"o":-0.164},{"f":"PSYCHVERBS","y":-0.574,"o":-0.007},{"f":"PSYCHVERBS","y":-0.551,"o":0.081},{"f":"PSYCHVERBS","y":-0.582,"o":0.164},{"f":"PSYCHVERBS","y":-0.577,"o":0.238},{"f":"PSYCHVERBS","y":-0.551,"o":0.284},{"f":"PSYCHVERBS","y":-0.574,"o":-0.298},{"f":"PSYCHVERBS","y":-0.626,"o":-0.298},{"f":"PSYCHVERBS","y":-0.670,"o":-0.300},{"f":"PSYCHVERBS","y":-0.621,"o":-0.250},{"f":"PSYCHVERBS","y":-0.628,"o":-0.227},{"f":"PSYCHVERBS","y":-0.639,"o":-0.206},{"f":"PSYCHVERBS","y":-0.613,"o":-0.083},{"f":"PSYCHVERBS","y":-0.633,"o":-0.068},{"f":"PSYCHVERBS","y":-0.639,"o":-0.094},{"f":"PSYCHVERBS","y":-0.665,"o":0.026},{"f":"PSYCHVERBS","y":-0.651,"o":0.068},{"f":"PSYCHVERBS","y":-0.651,"o":0.146},{"f":"PSYCHVERBS","y":-0.651,"o":0.230},{"f":"PSYCHVERBS","y":-0.618,"o":0.234},{"f":"PSYCHVERBS","y":-0.677,"o":0.267},{"f":"PSYCHVERBS","y":-0.685,"o":-0.168},{"f":"PSYCHVERBS","y":-0.726,"o":-0.144},{"f":"PSYCHVERBS","y":-0.716,"o":-0.011},{"f":"PSYCHVERBS","y":-0.723,"o":0.033},{"f":"PSYCHVERBS","y":-0.747,"o":0.039},{"f":"PSYCHVERBS","y":-0.736,"o":0.192},{"f":"PSYCHVERBS","y":-0.759,"o":-0.066},{"f":"PSYCHVERBS","y":-0.788,"o":-0.061},{"f":"PSYCHVERBS","y":-0.819,"o":0.114},{"f":"PSYCHVERBS","y":-0.878,"o":0.210},{"f":"PSYCHVERBS","y":-0.940,"o":0.083},{"f":"PSYCHVERBS","y":-0.983,"o":-0.212},
{"f":"COORDINATION","y":1.691,"o":-0.221},{"f":"COORDINATION","y":1.562,"o":0.175},{"f":"COORDINATION","y":1.498,"o":0.280},{"f":"COORDINATION","y":1.487,"o":-0.079},{"f":"COORDINATION","y":1.335,"o":-0.028},{"f":"COORDINATION","y":1.343,"o":-0.002},{"f":"COORDINATION","y":1.338,"o":-0.017},{"f":"COORDINATION","y":1.278,"o":-0.278},{"f":"COORDINATION","y":1.273,"o":0.077},{"f":"COORDINATION","y":1.286,"o":0.173},{"f":"COORDINATION","y":1.222,"o":-0.297},{"f":"COORDINATION","y":1.207,"o":-0.238},{"f":"COORDINATION","y":1.196,"o":0.107},{"f":"COORDINATION","y":1.204,"o":0.293},{"f":"COORDINATION","y":1.189,"o":-0.057},{"f":"COORDINATION","y":1.176,"o":-0.044},{"f":"COORDINATION","y":1.111,"o":-0.234},{"f":"COORDINATION","y":1.137,"o":-0.199},{"f":"COORDINATION","y":1.137,"o":-0.079},{"f":"COORDINATION","y":1.137,"o":0.015},{"f":"COORDINATION","y":1.127,"o":0.118},{"f":"COORDINATION","y":1.137,"o":0.221},{"f":"COORDINATION","y":1.158,"o":0.234},{"f":"COORDINATION","y":1.153,"o":0.293},{"f":"COORDINATION","y":1.086,"o":-0.090},{"f":"COORDINATION","y":1.060,"o":-0.116},{"f":"COORDINATION","y":1.029,"o":-0.098},{"f":"COORDINATION","y":1.067,"o":0.087},{"f":"COORDINATION","y":1.070,"o":0.134},{"f":"COORDINATION","y":1.081,"o":0.151},{"f":"COORDINATION","y":0.998,"o":-0.181},{"f":"COORDINATION","y":1.004,"o":0.173},{"f":"COORDINATION","y":0.950,"o":-0.160},{"f":"COORDINATION","y":0.968,"o":0.015},{"f":"COORDINATION","y":0.957,"o":0.230},{"f":"COORDINATION","y":0.926,"o":0.063},{"f":"COORDINATION","y":0.906,"o":-0.251},{"f":"COORDINATION","y":0.880,"o":-0.219},{"f":"COORDINATION","y":0.885,"o":-0.173},{"f":"COORDINATION","y":0.829,"o":-0.190},{"f":"COORDINATION","y":0.829,"o":-0.297},{"f":"COORDINATION","y":0.854,"o":-0.133},{"f":"COORDINATION","y":0.829,"o":-0.085},{"f":"COORDINATION","y":0.867,"o":-0.022},{"f":"COORDINATION","y":0.901,"o":0.151},{"f":"COORDINATION","y":0.854,"o":0.162},{"f":"COORDINATION","y":0.913,"o":0.195},{"f":"COORDINATION","y":0.888,"o":0.286},{"f":"COORDINATION","y":0.782,"o":-0.155},{"f":"COORDINATION","y":0.777,"o":0.039},{"f":"COORDINATION","y":0.736,"o":0.109},{"f":"COORDINATION","y":0.733,"o":0.225},{"f":"COORDINATION","y":0.713,"o":0.256},{"f":"COORDINATION","y":0.700,"o":-0.206},{"f":"COORDINATION","y":0.666,"o":-0.286},{"f":"COORDINATION","y":0.653,"o":-0.057},{"f":"COORDINATION","y":0.630,"o":-0.046},{"f":"COORDINATION","y":0.656,"o":0.026},{"f":"COORDINATION","y":0.648,"o":0.157},{"f":"COORDINATION","y":0.643,"o":0.186},{"f":"COORDINATION","y":0.648,"o":0.249},{"f":"COORDINATION","y":0.587,"o":-0.177},{"f":"COORDINATION","y":0.566,"o":0.037},{"f":"COORDINATION","y":0.527,"o":0.304},{"f":"COORDINATION","y":0.350,"o":-0.291},{"f":"COORDINATION","y":0.314,"o":-0.280},{"f":"COORDINATION","y":0.237,"o":-0.280},{"f":"COORDINATION","y":0.262,"o":-0.206},{"f":"COORDINATION","y":0.267,"o":-0.171},{"f":"COORDINATION","y":0.231,"o":-0.151},{"f":"COORDINATION","y":0.206,"o":-0.144},{"f":"COORDINATION","y":0.298,"o":0.004},{"f":"COORDINATION","y":0.357,"o":0.179},{"f":"COORDINATION","y":0.383,"o":0.221},{"f":"COORDINATION","y":0.290,"o":0.155},{"f":"COORDINATION","y":0.116,"o":-0.175},{"f":"COORDINATION","y":0.123,"o":-0.085},{"f":"COORDINATION","y":0.157,"o":0.039},{"f":"COORDINATION","y":0.159,"o":0.201},{"f":"COORDINATION","y":-0.013,"o":0.271},{"f":"COORDINATION","y":-0.093,"o":-0.247},{"f":"COORDINATION","y":-0.168,"o":-0.223},{"f":"COORDINATION","y":-0.253,"o":0.096},{"f":"COORDINATION","y":-0.312,"o":0.157},{"f":"COORDINATION","y":-0.304,"o":0.291}
]
},
"resolve": {"axis": {"x": "independent", "y": "independent"}},
"encoding": {
"x": {"field": "f", "type": "nominal",
 "sort": ["PASSIVE","PERIFRASTICPAST","NEGATION","MODALS","PSYCHVERBS","COORDINATION"],
 "scale": {"type": "band", "paddingInner": 0, "paddingOuter": 0.1},
 "axis": {"title": "Factors", "titleFont": "Liberation Sans", "titleFontSize": 17.8, "titleFontWeight": "bold", "titleColor": "#000000", "titlePadding": 3,
  "labelFont": "Liberation Sans", "labelFontSize": 16, "labelColor": "#4D4D4D", "labelPadding": 1, "labelAngle": 0, "labelOverlap": false, "labelLimit": 300,
  "tickSize": 3.5, "tickColor": "#333333", "tickWidth": 1.2, "domain": false, "bandPosition": 0.5,
  "grid": true, "gridColor": "#FFFFFF", "gridWidth": 1.4, "gridOpacity": 1}},
"y": {"field": "y", "type": "quantitative",
 "scale": {"domain": [-1.347, 1.832], "nice": false, "zero": false},
 "axis": {"values": [-1, -0.5, 0, 0.5, 1, 1.5],
  "labelExpr": "datum.value == 1 ? '1' : datum.value == 0 ? '0' : datum.value == -1 ? '-1' : ''",
  "title": "z-score transformed rating", "titleFont": "Liberation Sans", "titleFontSize": 17.8, "titleFontWeight": "bold", "titleColor": "#000000", "titlePadding": 4,
  "labelFont": "Liberation Sans", "labelFontSize": 16, "labelColor": "#4D4D4D", "labelPadding": 3,
  "tickSize": 4.5, "tickColor": "#333333", "tickWidth": 1.2,
  "tickOpacity": {"condition": {"test": "abs(datum.value % 1) > 0", "value": 0}, "value": 1},
  "domain": false, "grid": true, "gridColor": "#FFFFFF", "gridOpacity": 1,
  "gridWidth": {"condition": {"test": "abs(datum.value % 1) > 0", "value": 0.7}, "value": 1.4}}},
"xOffset": {"field": "o", "type": "quantitative", "scale": {"domain": [-0.5, 0.5]}}
},
"layer": [
{"data": {"name": "vio"},
 "mark": {"type": "line", "fill": "#FFFFFF", "stroke": "#333333", "strokeWidth": 1},
 "encoding": {"detail": {"field": "f"}, "order": {"value": null}}},
{"data": {"name": "qt"},
 "mark": {"type": "line", "stroke": "#333333", "strokeWidth": 1},
 "encoding": {
  "x": {"field": "f", "type": "nominal", "sort": ["PASSIVE","PERIFRASTICPAST","NEGATION","MODALS","PSYCHVERBS","COORDINATION"], "axis": null},
  "y": {"field": "y", "type": "quantitative", "axis": null},
  "detail": {"field": "g"}, "order": {"value": null}}},
{"data": {"name": "pts"},
 "mark": {"type": "circle", "size": 28, "color": "#000000", "opacity": 1},
 "encoding": {
  "x": {"field": "f", "type": "nominal", "sort": ["PASSIVE","PERIFRASTICPAST","NEGATION","MODALS","PSYCHVERBS","COORDINATION"],
   "axis": {"orient": "top", "offset": 10, "domain": true, "domainColor": "#3A3A3A", "domainWidth": 1.6, "labels": false, "ticks": false, "grid": false, "title": null}},
  "y": {"field": "y", "type": "quantitative",
   "axis": {"orient": "left", "offset": 51.2, "domain": true, "domainColor": "#3A3A3A", "domainWidth": 1.6, "labels": false, "ticks": false, "grid": false, "title": null}}}}
]
}
